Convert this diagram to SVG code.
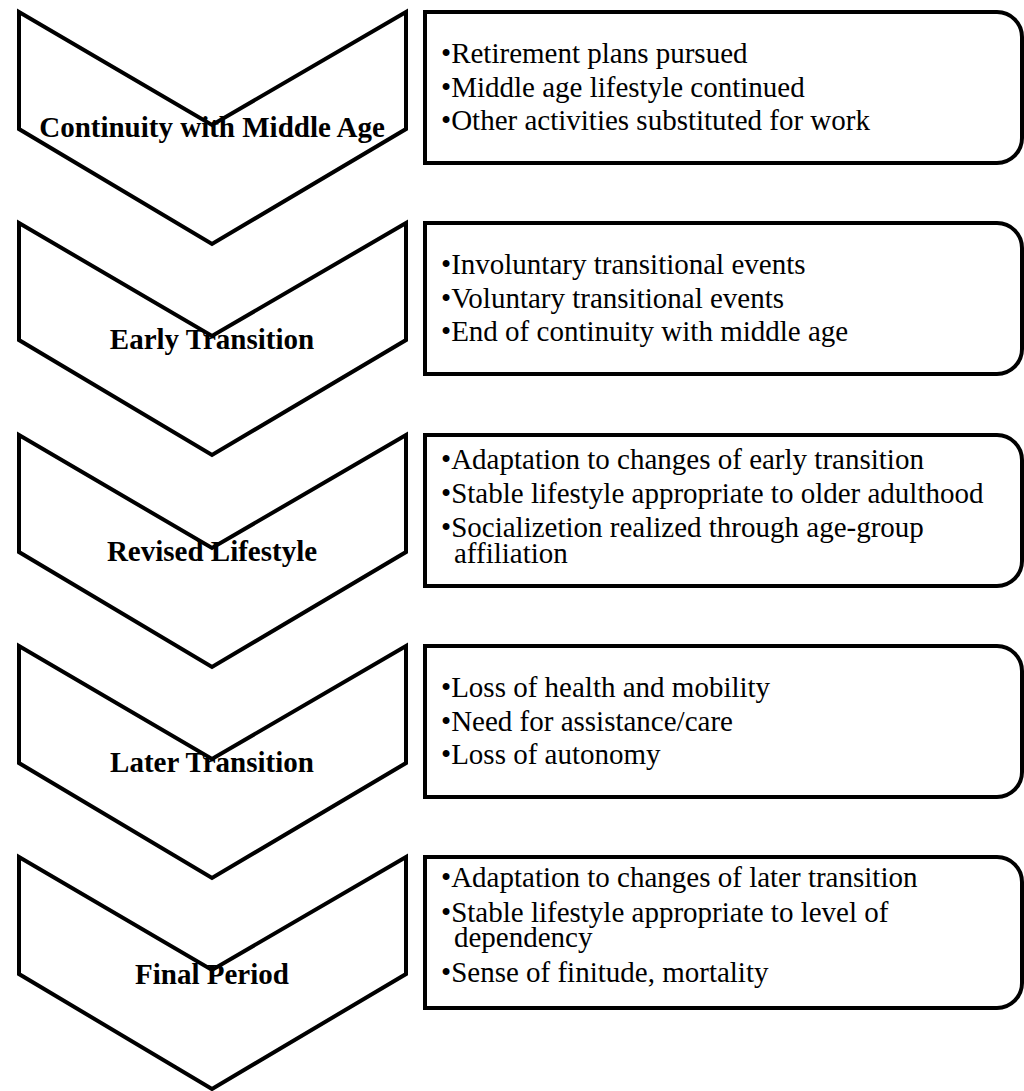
<svg xmlns="http://www.w3.org/2000/svg" width="1024" height="1091" viewBox="0 0 1024 1091">
  <style>
    .chev { fill: #ffffff; stroke: #000000; stroke-width: 4; stroke-linejoin: miter; }
    .box { fill: #ffffff; stroke: #000000; stroke-width: 4; }
    .label { font-family: "Liberation Serif", "Times New Roman", serif; font-weight: bold; font-size: 29px; fill: #000000; text-anchor: middle; }
    .item { font-family: "Liberation Serif", "Times New Roman", serif; font-size: 29px; fill: #000000; }
  </style>
  <rect width="1024" height="1091" fill="#ffffff"/>

  <!-- Stage 1 -->
  <g id="stage-continuity">
    <polygon class="chev" points="19,12 212,125 406,12 406,129 212,244 19,129"/>
    <text class="label" x="212" y="137">Continuity with Middle Age</text>
  </g>
  <g id="notes-continuity">
    <path class="box" d="M425,12 H997 A25,25 0 0 1 1022,37 V138 A25,25 0 0 1 997,163 H425 Z"/>
    <text class="item" x="441" y="63">•Retirement plans pursued</text>
    <text class="item" x="441" y="97">•Middle age lifestyle continued</text>
    <text class="item" x="441" y="130">•Other activities substituted for work</text>
  </g>

  <!-- Stage 2 -->
  <g id="stage-early">
    <polygon class="chev" points="19,223 212,336 406,223 406,340 212,455 19,340"/>
    <text class="label" x="212" y="349">Early Transition</text>
  </g>
  <g id="notes-early">
    <path class="box" d="M425,223 H997 A25,25 0 0 1 1022,248 V349 A25,25 0 0 1 997,374 H425 Z"/>
    <text class="item" x="441" y="274">•Involuntary transitional events</text>
    <text class="item" x="441" y="308">•Voluntary transitional events</text>
    <text class="item" x="441" y="341">•End of continuity with middle age</text>
  </g>

  <!-- Stage 3 -->
  <g id="stage-revised">
    <polygon class="chev" points="19,435 212,548 406,435 406,552 212,667 19,552"/>
    <text class="label" x="212" y="561">Revised Lifestyle</text>
  </g>
  <g id="notes-revised">
    <path class="box" d="M425,435 H997 A25,25 0 0 1 1022,460 V561 A25,25 0 0 1 997,586 H425 Z"/>
    <text class="item" x="441" y="469">•Adaptation to changes of early transition</text>
    <text class="item" x="441" y="503">•Stable lifestyle appropriate to older adulthood</text>
    <text class="item" x="441" y="537">•Socializetion realized through age-group</text>
    <text class="item" x="454" y="563">affiliation</text>
  </g>

  <!-- Stage 4 -->
  <g id="stage-later">
    <polygon class="chev" points="19,646 212,759 406,646 406,763 212,878 19,763"/>
    <text class="label" x="212" y="772">Later Transition</text>
  </g>
  <g id="notes-later">
    <path class="box" d="M425,646 H997 A25,25 0 0 1 1022,671 V772 A25,25 0 0 1 997,797 H425 Z"/>
    <text class="item" x="441" y="697">•Loss of health and mobility</text>
    <text class="item" x="441" y="731">•Need for assistance/care</text>
    <text class="item" x="441" y="764">•Loss of autonomy</text>
  </g>

  <!-- Stage 5 -->
  <g id="stage-final">
    <polygon class="chev" points="19,857 212,970 406,857 406,974 212,1089 19,974"/>
    <text class="label" x="212" y="984">Final Period</text>
  </g>
  <g id="notes-final">
    <path class="box" d="M425,857 H997 A25,25 0 0 1 1022,882 V983 A25,25 0 0 1 997,1008 H425 Z"/>
    <text class="item" x="441" y="887">•Adaptation to changes of later transition</text>
    <text class="item" x="441" y="922">•Stable lifestyle appropriate to level of</text>
    <text class="item" x="454" y="947">dependency</text>
    <text class="item" x="441" y="982">•Sense of finitude, mortality</text>
  </g>

  <!-- the stages are linked only by their chevron shapes -->
  <g id="connectors"/>
</svg>
